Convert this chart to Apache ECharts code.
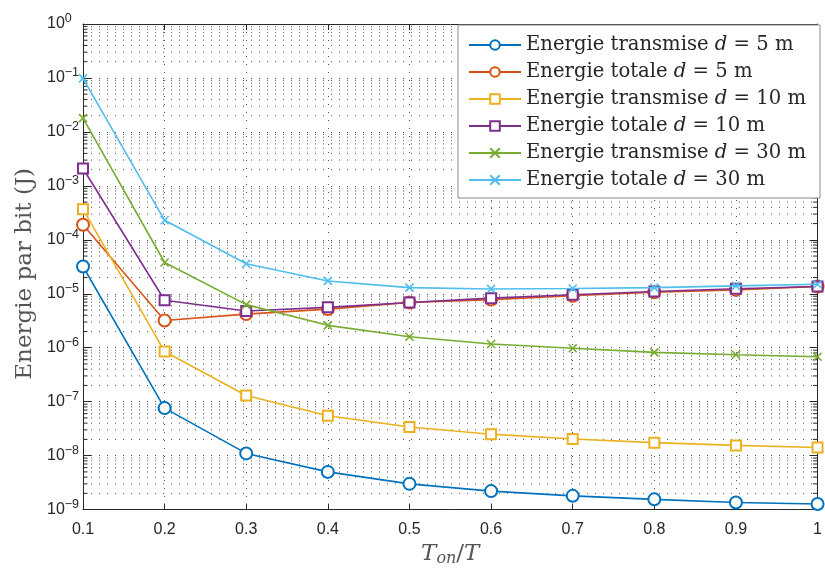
<!DOCTYPE html>
<html>
<head>
<meta charset="utf-8">
<script src="https://cdn.jsdelivr.net/npm/echarts@6/dist/echarts.min.js"></script>
<style>html,body{margin:0;padding:0;background:#fff}#c{width:825px;height:572px}</style>
</head>
<body>
<div id="c"></div>
<script>
const xValues = [0.1, 0.2, 0.3, 0.4, 0.5, 0.6, 0.7, 0.8, 0.9, 1.0];
const transmise5 = [3.2e-5, 7.6e-8, 1.1e-8, 5.0e-9, 3.0e-9, 2.2e-9, 1.8e-9, 1.55e-9, 1.35e-9, 1.27e-9];
const totale5 = [1.9e-4, 3.2e-6, 4.2e-6, 5.2e-6, 6.9e-6, 7.8e-6, 9.2e-6, 1.07e-5, 1.18e-5, 1.36e-5];
const transmise10 = [3.7e-4, 8.5e-7, 1.3e-7, 5.5e-8, 3.4e-8, 2.5e-8, 2.04e-8, 1.74e-8, 1.55e-8, 1.42e-8];
const totale10 = [2.1e-3, 7.6e-6, 4.8e-6, 5.6e-6, 6.9e-6, 8.3e-6, 9.6e-6, 1.1e-5, 1.24e-5, 1.36e-5];
const transmise30 = [1.8e-2, 3.8e-5, 6.3e-6, 2.6e-6, 1.6e-6, 1.17e-6, 9.8e-7, 8.2e-7, 7.4e-7, 6.8e-7];
const totale30 = [0.098, 2.3e-4, 3.6e-5, 1.73e-5, 1.3e-5, 1.23e-5, 1.25e-5, 1.3e-5, 1.4e-5, 1.5e-5];

const seriesNames = [
  'Energie transmise d = 5 m', 'Energie totale d = 5 m',
  'Energie transmise d = 10 m', 'Energie totale d = 10 m',
  'Energie transmise d = 30 m', 'Energie totale d = 30 m'
];
const legendRich = [
  '{n|Energie transmise }{i|d}{n| = 5 m}', '{n|Energie totale }{i|d}{n| = 5 m}',
  '{n|Energie transmise }{i|d}{n| = 10 m}', '{n|Energie totale }{i|d}{n| = 10 m}',
  '{n|Energie transmise }{i|d}{n| = 30 m}', '{n|Energie totale }{i|d}{n| = 30 m}'
];
const seriesData = [transmise5, totale5, transmise10, totale10, transmise30, totale30];
const colors = ['#0072BD', '#D95319', '#EDB120', '#7E2F8E', '#77AC30', '#4DBEEE'];
const symbols = ['emptyCircle', 'emptyCircle', 'emptyRect', 'emptyRect', 'path://M0,0L10,10M10,0L0,10', 'path://M0,0L10,10M10,0L0,10'];
const symbolSizes = [12, 12, 10, 10, 8, 8];
const decadeExps = [-9, -8, -7, -6, -5, -4, -3, -2, -1];
const minorMults = [2, 3, 4, 5, 6, 7, 8, 9];
const xMin = 0.1, xMax = 1.0;

const minorVals = [];
decadeExps.forEach(e => minorMults.forEach(k => minorVals.push(Number((k * Math.pow(10, e)).toPrecision(3)))));

const dotted = [1, 7];
const gridSeg = [];
minorVals.forEach(v => { gridSeg.push([xMin, v], [xMax, v], [0.5, '-']); });
const tickSeg = [];
minorVals.forEach(v => {
  tickSeg.push([xMin, v], [xMin + 0.0055, v], [0.5, '-']);
  tickSeg.push([xMax - 0.0055, v], [xMax, v], [0.5, '-']);
});

const series = [];
series.push({
  type: 'line', data: gridSeg, silent: true, z: 1, symbol: 'none', connectNulls: false,
  lineStyle: { color: '#262626', width: 1, type: dotted, opacity: 0.8 }, animation: false
});
series.push({
  type: 'line', data: tickSeg, silent: true, z: 3, symbol: 'none', connectNulls: false,
  lineStyle: { color: '#262626', width: 1 }, animation: false
});
seriesData.forEach((d, i) => series.push({
  name: seriesNames[i],
  type: 'line',
  data: d.map((v, j) => [xValues[j], v]),
  symbol: symbols[i],
  symbolSize: symbolSizes[i],
  showAllSymbol: true,
  color: colors[i],
  lineStyle: { width: 1.6, color: colors[i] },
  itemStyle: i >= 4 ? { color: colors[i], borderColor: colors[i], borderWidth: 1.6 } : { color: colors[i], borderWidth: 1.6 },
  emphasis: { disabled: true },
  z: 10 + i
}));

const chart = echarts.init(document.getElementById('c'), null, { renderer: 'canvas' });
const axisFont = 'Liberation Sans, Arial, sans-serif';
const serif = 'DejaVu Serif, Liberation Serif, serif';
chart.setOption({
  animation: false,
  backgroundColor: '#fff',
  grid: { left: 83, right: 3, top: 24, bottom: 58 },
  legend: {
    orient: 'vertical',
    right: 5, top: 25,
    padding: [10, 14, 8, 10],
    itemGap: 7,
    itemWidth: 52, itemHeight: 12,
    backgroundColor: '#fff',
    borderColor: '#8c8c8c', borderWidth: 1, borderRadius: 0,
    data: seriesNames,
    formatter: name => legendRich[seriesNames.indexOf(name)],
    textStyle: {
      fontFamily: serif, fontSize: 19.6, color: '#262626', lineHeight: 20,
      rich: {
        n: { fontFamily: serif, fontSize: 19.6, color: '#262626' },
        i: { fontFamily: serif, fontSize: 19.6, fontStyle: 'italic', color: '#262626' }
      }
    },
    z: 20
  },
  xAxis: [{
    type: 'value', min: xMin, max: xMax, interval: 0.1,
    position: 'bottom',
    name: '{i|T}{s|on}{n|/}{i|T}',
    nameLocation: 'middle', nameGap: 26,
    nameTextStyle: {
      color: '#555',
      rich: {
        i: { fontFamily: serif, fontStyle: 'italic', fontSize: 23, color: '#555' },
        s: { fontFamily: serif, fontStyle: 'italic', fontSize: 16, color: '#555', padding: [10, 0, 0, 0] },
        n: { fontFamily: serif, fontSize: 23, color: '#555' }
      }
    },
    axisLine: { show: true, onZero: false, lineStyle: { color: '#262626', width: 1 } },
    axisTick: { show: true, inside: true, length: 6, lineStyle: { color: '#262626' } },
    axisLabel: {
      color: '#262626', fontFamily: axisFont, fontSize: 16, margin: 12,
      formatter: v => (Math.abs(v - 1) < 1e-9 ? '1' : v.toFixed(1))
    },
    splitLine: { show: true, lineStyle: { color: '#262626', width: 1, type: dotted, opacity: 0.8 } }
  }, {
    type: 'value', min: xMin, max: xMax, interval: 0.1,
    position: 'top',
    axisLine: { show: true, onZero: false, lineStyle: { color: '#262626', width: 1 } },
    axisTick: { show: true, inside: true, length: 6, lineStyle: { color: '#262626' } },
    axisLabel: { show: false },
    splitLine: { show: false }
  }],
  yAxis: [{
    type: 'log', logBase: 10, min: 1e-9, max: 1,
    position: 'left',
    name: 'Energie par bit (J)',
    nameLocation: 'middle', nameGap: 39,
    nameTextStyle: { fontFamily: serif, fontSize: 23, color: '#555', padding: [0, 14, 0, 0] },
    axisLine: { show: true, onZero: false, lineStyle: { color: '#262626', width: 1 } },
    axisTick: { show: true, inside: true, length: 8, lineStyle: { color: '#262626' } },
    axisLabel: {
      margin: 36, align: 'left',
      formatter: v => {
        const e = Math.round(Math.log10(v));
        return '{b|10}{s|' + (e < 0 ? '\u2212' + (-e) : String(e)) + '}';
      },
      rich: {
        b: { fontFamily: axisFont, fontSize: 16, color: '#262626' },
        s: { fontFamily: axisFont, fontSize: 12.5, color: '#262626', padding: [0, 0, 11, 0] }
      }
    },
    splitLine: { show: true, lineStyle: { color: '#262626', width: 1, type: dotted, opacity: 0.8 } }
  }, {
    type: 'log', logBase: 10, min: 1e-9, max: 1,
    position: 'right',
    axisLine: { show: true, onZero: false, lineStyle: { color: '#262626', width: 1 } },
    axisTick: { show: true, inside: true, length: 8, lineStyle: { color: '#262626' } },
    axisLabel: { show: false },
    splitLine: { show: false }
  }],
  series: series
});
</script>
</body>
</html>
